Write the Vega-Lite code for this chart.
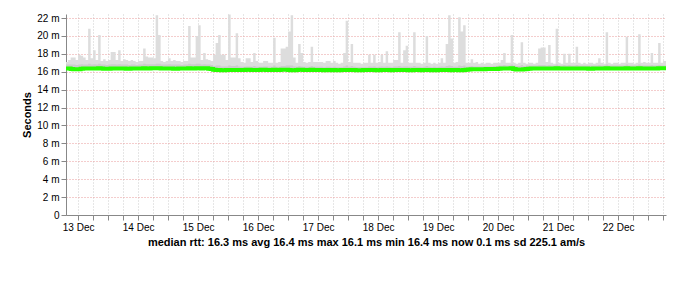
{
"$schema": "https://vega.github.io/schema/vega-lite/v6.json",
"width": 600,
"height": 201,
"autosize": "none",
"padding": {"left": 66, "top": 14, "right": 31, "bottom": 82},
"background": "#ffffff",
"config": {"view": {"stroke": null}},
"data": {"values": [
{"t":"2025-12-12T19:00","m":16.35,"q":16.8,"h":17.1},
{"t":"2025-12-12T20:00","m":16.35,"q":16.8,"h":17.3},
{"t":"2025-12-12T21:00","m":16.32,"q":16.8,"h":17.6},
{"t":"2025-12-12T22:00","m":16.28,"q":16.8,"h":17.6},
{"t":"2025-12-12T23:00","m":16.28,"q":16.75,"h":17.3},
{"t":"2025-12-13T00:00","m":16.28,"q":16.8,"h":17.9},
{"t":"2025-12-13T01:00","m":16.34,"q":16.85,"h":17.8},
{"t":"2025-12-13T02:00","m":16.36,"q":16.8,"h":17.6},
{"t":"2025-12-13T03:00","m":16.36,"q":16.8,"h":17.3},
{"t":"2025-12-13T04:00","m":16.36,"q":16.9,"h":20.8},
{"t":"2025-12-13T05:00","m":16.36,"q":16.8,"h":17.5},
{"t":"2025-12-13T06:00","m":16.36,"q":16.85,"h":18.4},
{"t":"2025-12-13T07:00","m":16.36,"q":16.8,"h":17.3},
{"t":"2025-12-13T08:00","m":16.38,"q":16.9,"h":20.1},
{"t":"2025-12-13T09:00","m":16.36,"q":16.8,"h":17.2},
{"t":"2025-12-13T10:00","m":16.34,"q":16.8,"h":17.4},
{"t":"2025-12-13T11:00","m":16.34,"q":16.75,"h":17.2},
{"t":"2025-12-13T12:00","m":16.34,"q":16.8,"h":17.3},
{"t":"2025-12-13T13:00","m":16.36,"q":16.85,"h":18.2},
{"t":"2025-12-13T14:00","m":16.36,"q":16.85,"h":18.2},
{"t":"2025-12-13T15:00","m":16.36,"q":16.8,"h":17.3},
{"t":"2025-12-13T16:00","m":16.36,"q":16.85,"h":18.4},
{"t":"2025-12-13T17:00","m":16.36,"q":16.8,"h":17.2},
{"t":"2025-12-13T18:00","m":16.36,"q":16.8,"h":17.4},
{"t":"2025-12-13T19:00","m":16.34,"q":16.8,"h":17.3},
{"t":"2025-12-13T20:00","m":16.34,"q":16.75,"h":17.2},
{"t":"2025-12-13T21:00","m":16.36,"q":16.8,"h":17.3},
{"t":"2025-12-13T22:00","m":16.36,"q":16.8,"h":17.2},
{"t":"2025-12-13T23:00","m":16.36,"q":16.75,"h":17.1},
{"t":"2025-12-14T00:00","m":16.36,"q":16.8,"h":17.2},
{"t":"2025-12-14T01:00","m":16.36,"q":16.8,"h":17.2},
{"t":"2025-12-14T02:00","m":16.38,"q":16.9,"h":18.6},
{"t":"2025-12-14T03:00","m":16.36,"q":16.85,"h":17.7},
{"t":"2025-12-14T04:00","m":16.36,"q":16.85,"h":17.6},
{"t":"2025-12-14T05:00","m":16.38,"q":16.85,"h":17.6},
{"t":"2025-12-14T06:00","m":16.38,"q":16.85,"h":17.5},
{"t":"2025-12-14T07:00","m":16.38,"q":16.9,"h":22.3},
{"t":"2025-12-14T08:00","m":16.38,"q":16.9,"h":20.1},
{"t":"2025-12-14T09:00","m":16.36,"q":16.8,"h":17.2},
{"t":"2025-12-14T10:00","m":16.36,"q":16.8,"h":17.1},
{"t":"2025-12-14T11:00","m":16.36,"q":16.8,"h":17.2},
{"t":"2025-12-14T12:00","m":16.36,"q":16.85,"h":17.5},
{"t":"2025-12-14T13:00","m":16.36,"q":16.8,"h":17.2},
{"t":"2025-12-14T14:00","m":16.34,"q":16.8,"h":17.3},
{"t":"2025-12-14T15:00","m":16.34,"q":16.8,"h":17.2},
{"t":"2025-12-14T16:00","m":16.36,"q":16.8,"h":17.2},
{"t":"2025-12-14T17:00","m":16.36,"q":16.75,"h":17.1},
{"t":"2025-12-14T18:00","m":16.36,"q":16.8,"h":17.2},
{"t":"2025-12-14T19:00","m":16.36,"q":16.8,"h":17.2},
{"t":"2025-12-14T20:00","m":16.38,"q":16.9,"h":21.1},
{"t":"2025-12-14T21:00","m":16.36,"q":16.85,"h":17.6},
{"t":"2025-12-14T22:00","m":16.36,"q":16.85,"h":17.6},
{"t":"2025-12-14T23:00","m":16.38,"q":16.9,"h":20.0},
{"t":"2025-12-15T00:00","m":16.38,"q":16.9,"h":21.2},
{"t":"2025-12-15T01:00","m":16.36,"q":16.8,"h":17.3},
{"t":"2025-12-15T02:00","m":16.38,"q":16.85,"h":18.1},
{"t":"2025-12-15T03:00","m":16.38,"q":16.8,"h":17.4},
{"t":"2025-12-15T04:00","m":16.34,"q":16.8,"h":17.3},
{"t":"2025-12-15T05:00","m":16.3,"q":16.75,"h":17.2},
{"t":"2025-12-15T06:00","m":16.22,"q":16.65,"h":17.9},
{"t":"2025-12-15T07:00","m":16.2,"q":16.7,"h":19.2},
{"t":"2025-12-15T08:00","m":16.2,"q":16.7,"h":20.1},
{"t":"2025-12-15T09:00","m":16.18,"q":16.6,"h":17.9},
{"t":"2025-12-15T10:00","m":16.18,"q":16.6,"h":17.9},
{"t":"2025-12-15T11:00","m":16.2,"q":16.6,"h":17.3},
{"t":"2025-12-15T12:00","m":16.2,"q":16.7,"h":22.4},
{"t":"2025-12-15T13:00","m":16.2,"q":16.65,"h":17.6},
{"t":"2025-12-15T14:00","m":16.2,"q":16.65,"h":17.6},
{"t":"2025-12-15T15:00","m":16.2,"q":16.7,"h":20.3},
{"t":"2025-12-15T16:00","m":16.2,"q":16.6,"h":17.5},
{"t":"2025-12-15T17:00","m":16.2,"q":16.55,"h":17.1},
{"t":"2025-12-15T18:00","m":16.2,"q":16.55,"h":17.0},
{"t":"2025-12-15T19:00","m":16.22,"q":16.6,"h":17.5},
{"t":"2025-12-15T20:00","m":16.22,"q":16.6,"h":17.5},
{"t":"2025-12-15T21:00","m":16.2,"q":16.55,"h":17.1},
{"t":"2025-12-15T22:00","m":16.2,"q":16.65,"h":18.1},
{"t":"2025-12-15T23:00","m":16.2,"q":16.55,"h":17.2},
{"t":"2025-12-16T00:00","m":16.2,"q":16.55,"h":17.0},
{"t":"2025-12-16T01:00","m":16.22,"q":16.55,"h":17.0},
{"t":"2025-12-16T02:00","m":16.22,"q":16.6,"h":17.2},
{"t":"2025-12-16T03:00","m":16.2,"q":16.6,"h":17.2},
{"t":"2025-12-16T04:00","m":16.2,"q":16.55,"h":17.0},
{"t":"2025-12-16T05:00","m":16.2,"q":16.55,"h":17.0},
{"t":"2025-12-16T06:00","m":16.22,"q":16.7,"h":19.8},
{"t":"2025-12-16T07:00","m":16.2,"q":16.55,"h":17.0},
{"t":"2025-12-16T08:00","m":16.2,"q":16.55,"h":17.1},
{"t":"2025-12-16T09:00","m":16.22,"q":16.65,"h":18.6},
{"t":"2025-12-16T10:00","m":16.22,"q":16.65,"h":18.6},
{"t":"2025-12-16T11:00","m":16.22,"q":16.7,"h":18.8},
{"t":"2025-12-16T12:00","m":16.2,"q":16.7,"h":20.5},
{"t":"2025-12-16T13:00","m":16.16,"q":16.7,"h":22.3},
{"t":"2025-12-16T14:00","m":16.18,"q":16.6,"h":17.6},
{"t":"2025-12-16T15:00","m":16.2,"q":16.55,"h":17.0},
{"t":"2025-12-16T16:00","m":16.22,"q":16.65,"h":19.1},
{"t":"2025-12-16T17:00","m":16.22,"q":16.6,"h":18.1},
{"t":"2025-12-16T18:00","m":16.2,"q":16.55,"h":17.1},
{"t":"2025-12-16T19:00","m":16.2,"q":16.55,"h":17.0},
{"t":"2025-12-16T20:00","m":16.2,"q":16.55,"h":17.1},
{"t":"2025-12-16T21:00","m":16.22,"q":16.65,"h":18.8},
{"t":"2025-12-16T22:00","m":16.2,"q":16.55,"h":17.1},
{"t":"2025-12-16T23:00","m":16.2,"q":16.55,"h":17.1},
{"t":"2025-12-17T00:00","m":16.2,"q":16.55,"h":17.1},
{"t":"2025-12-17T01:00","m":16.2,"q":16.55,"h":17.1},
{"t":"2025-12-17T02:00","m":16.18,"q":16.5,"h":17.0},
{"t":"2025-12-17T03:00","m":16.2,"q":16.55,"h":17.2},
{"t":"2025-12-17T04:00","m":16.2,"q":16.55,"h":17.2},
{"t":"2025-12-17T05:00","m":16.18,"q":16.5,"h":17.0},
{"t":"2025-12-17T06:00","m":16.2,"q":16.55,"h":17.2},
{"t":"2025-12-17T07:00","m":16.18,"q":16.5,"h":17.0},
{"t":"2025-12-17T08:00","m":16.18,"q":16.5,"h":16.9},
{"t":"2025-12-17T09:00","m":16.2,"q":16.5,"h":17.0},
{"t":"2025-12-17T10:00","m":16.2,"q":16.6,"h":18.1},
{"t":"2025-12-17T11:00","m":16.2,"q":16.7,"h":21.7},
{"t":"2025-12-17T12:00","m":16.2,"q":16.55,"h":17.1},
{"t":"2025-12-17T13:00","m":16.2,"q":16.65,"h":19.1},
{"t":"2025-12-17T14:00","m":16.2,"q":16.55,"h":17.0},
{"t":"2025-12-17T15:00","m":16.18,"q":16.5,"h":17.0},
{"t":"2025-12-17T16:00","m":16.18,"q":16.5,"h":17.0},
{"t":"2025-12-17T17:00","m":16.18,"q":16.5,"h":16.9},
{"t":"2025-12-17T18:00","m":16.2,"q":16.5,"h":17.0},
{"t":"2025-12-17T19:00","m":16.2,"q":16.5,"h":17.0},
{"t":"2025-12-17T20:00","m":16.2,"q":16.6,"h":17.9},
{"t":"2025-12-17T21:00","m":16.2,"q":16.55,"h":17.0},
{"t":"2025-12-17T22:00","m":16.2,"q":16.6,"h":17.9},
{"t":"2025-12-17T23:00","m":16.18,"q":16.5,"h":17.0},
{"t":"2025-12-18T00:00","m":16.18,"q":16.55,"h":17.1},
{"t":"2025-12-18T01:00","m":16.2,"q":16.6,"h":17.9},
{"t":"2025-12-18T02:00","m":16.2,"q":16.55,"h":17.0},
{"t":"2025-12-18T03:00","m":16.2,"q":16.6,"h":18.3},
{"t":"2025-12-18T04:00","m":16.2,"q":16.55,"h":17.0},
{"t":"2025-12-18T05:00","m":16.18,"q":16.5,"h":17.0},
{"t":"2025-12-18T06:00","m":16.2,"q":16.6,"h":17.3},
{"t":"2025-12-18T07:00","m":16.2,"q":16.6,"h":17.3},
{"t":"2025-12-18T08:00","m":16.2,"q":16.65,"h":20.4},
{"t":"2025-12-18T09:00","m":16.2,"q":16.55,"h":17.0},
{"t":"2025-12-18T10:00","m":16.2,"q":16.6,"h":18.4},
{"t":"2025-12-18T11:00","m":16.2,"q":16.6,"h":18.9},
{"t":"2025-12-18T12:00","m":16.18,"q":16.55,"h":17.0},
{"t":"2025-12-18T13:00","m":16.18,"q":16.55,"h":17.0},
{"t":"2025-12-18T14:00","m":16.2,"q":16.65,"h":20.4},
{"t":"2025-12-18T15:00","m":16.2,"q":16.55,"h":17.0},
{"t":"2025-12-18T16:00","m":16.2,"q":16.55,"h":17.0},
{"t":"2025-12-18T17:00","m":16.18,"q":16.5,"h":16.9},
{"t":"2025-12-18T18:00","m":16.2,"q":16.55,"h":17.0},
{"t":"2025-12-18T19:00","m":16.2,"q":16.65,"h":20.0},
{"t":"2025-12-18T20:00","m":16.2,"q":16.55,"h":17.0},
{"t":"2025-12-18T21:00","m":16.18,"q":16.5,"h":16.9},
{"t":"2025-12-18T22:00","m":16.2,"q":16.55,"h":17.0},
{"t":"2025-12-18T23:00","m":16.18,"q":16.5,"h":16.9},
{"t":"2025-12-19T00:00","m":16.2,"q":16.55,"h":17.0},
{"t":"2025-12-19T01:00","m":16.2,"q":16.6,"h":17.5},
{"t":"2025-12-19T02:00","m":16.2,"q":16.55,"h":17.0},
{"t":"2025-12-19T03:00","m":16.2,"q":16.65,"h":19.1},
{"t":"2025-12-19T04:00","m":16.2,"q":16.7,"h":22.3},
{"t":"2025-12-19T05:00","m":16.18,"q":16.65,"h":19.7},
{"t":"2025-12-19T06:00","m":16.2,"q":16.55,"h":17.0},
{"t":"2025-12-19T07:00","m":16.2,"q":16.55,"h":17.1},
{"t":"2025-12-19T08:00","m":16.16,"q":16.7,"h":22.1},
{"t":"2025-12-19T09:00","m":16.16,"q":16.65,"h":20.5},
{"t":"2025-12-19T10:00","m":16.2,"q":16.7,"h":21.2},
{"t":"2025-12-19T11:00","m":16.22,"q":16.55,"h":17.0},
{"t":"2025-12-19T12:00","m":16.26,"q":16.6,"h":17.0},
{"t":"2025-12-19T13:00","m":16.28,"q":16.65,"h":17.4},
{"t":"2025-12-19T14:00","m":16.28,"q":16.6,"h":17.0},
{"t":"2025-12-19T15:00","m":16.28,"q":16.6,"h":17.1},
{"t":"2025-12-19T16:00","m":16.28,"q":16.6,"h":16.9},
{"t":"2025-12-19T17:00","m":16.28,"q":16.6,"h":17.0},
{"t":"2025-12-19T18:00","m":16.28,"q":16.6,"h":16.9},
{"t":"2025-12-19T19:00","m":16.3,"q":16.6,"h":17.0},
{"t":"2025-12-19T20:00","m":16.3,"q":16.6,"h":17.0},
{"t":"2025-12-19T21:00","m":16.3,"q":16.6,"h":16.9},
{"t":"2025-12-19T22:00","m":16.3,"q":16.65,"h":17.0},
{"t":"2025-12-19T23:00","m":16.32,"q":16.65,"h":17.0},
{"t":"2025-12-20T00:00","m":16.34,"q":16.7,"h":17.0},
{"t":"2025-12-20T01:00","m":16.36,"q":16.7,"h":17.3},
{"t":"2025-12-20T02:00","m":16.36,"q":16.75,"h":18.1},
{"t":"2025-12-20T03:00","m":16.36,"q":16.7,"h":17.0},
{"t":"2025-12-20T04:00","m":16.36,"q":16.7,"h":17.0},
{"t":"2025-12-20T05:00","m":16.38,"q":16.8,"h":20.1},
{"t":"2025-12-20T06:00","m":16.3,"q":16.7,"h":17.0},
{"t":"2025-12-20T07:00","m":16.26,"q":16.65,"h":16.9},
{"t":"2025-12-20T08:00","m":16.26,"q":16.65,"h":17.0},
{"t":"2025-12-20T09:00","m":16.26,"q":16.75,"h":19.3},
{"t":"2025-12-20T10:00","m":16.28,"q":16.65,"h":17.0},
{"t":"2025-12-20T11:00","m":16.3,"q":16.7,"h":16.9},
{"t":"2025-12-20T12:00","m":16.34,"q":16.7,"h":17.0},
{"t":"2025-12-20T13:00","m":16.36,"q":16.7,"h":17.0},
{"t":"2025-12-20T14:00","m":16.36,"q":16.7,"h":16.9},
{"t":"2025-12-20T15:00","m":16.36,"q":16.7,"h":17.0},
{"t":"2025-12-20T16:00","m":16.36,"q":16.75,"h":18.6},
{"t":"2025-12-20T17:00","m":16.36,"q":16.75,"h":18.7},
{"t":"2025-12-20T18:00","m":16.36,"q":16.75,"h":18.7},
{"t":"2025-12-20T19:00","m":16.36,"q":16.7,"h":17.1},
{"t":"2025-12-20T20:00","m":16.36,"q":16.75,"h":19.0},
{"t":"2025-12-20T21:00","m":16.36,"q":16.7,"h":17.0},
{"t":"2025-12-20T22:00","m":16.36,"q":16.7,"h":16.9},
{"t":"2025-12-20T23:00","m":16.38,"q":16.8,"h":20.8},
{"t":"2025-12-21T00:00","m":16.36,"q":16.7,"h":17.0},
{"t":"2025-12-21T01:00","m":16.36,"q":16.7,"h":16.9},
{"t":"2025-12-21T02:00","m":16.36,"q":16.75,"h":18.0},
{"t":"2025-12-21T03:00","m":16.36,"q":16.7,"h":17.0},
{"t":"2025-12-21T04:00","m":16.36,"q":16.75,"h":18.0},
{"t":"2025-12-21T05:00","m":16.36,"q":16.7,"h":17.0},
{"t":"2025-12-21T06:00","m":16.36,"q":16.7,"h":17.0},
{"t":"2025-12-21T07:00","m":16.36,"q":16.75,"h":18.8},
{"t":"2025-12-21T08:00","m":16.36,"q":16.7,"h":17.0},
{"t":"2025-12-21T09:00","m":16.36,"q":16.7,"h":16.9},
{"t":"2025-12-21T10:00","m":16.36,"q":16.7,"h":17.0},
{"t":"2025-12-21T11:00","m":16.36,"q":16.7,"h":16.9},
{"t":"2025-12-21T12:00","m":16.34,"q":16.7,"h":17.0},
{"t":"2025-12-21T13:00","m":16.34,"q":16.7,"h":17.0},
{"t":"2025-12-21T14:00","m":16.36,"q":16.7,"h":16.9},
{"t":"2025-12-21T15:00","m":16.36,"q":16.7,"h":17.0},
{"t":"2025-12-21T16:00","m":16.36,"q":16.75,"h":17.5},
{"t":"2025-12-21T17:00","m":16.36,"q":16.7,"h":17.0},
{"t":"2025-12-21T18:00","m":16.36,"q":16.7,"h":16.9},
{"t":"2025-12-21T19:00","m":16.38,"q":16.8,"h":20.4},
{"t":"2025-12-21T20:00","m":16.36,"q":16.7,"h":17.0},
{"t":"2025-12-21T21:00","m":16.36,"q":16.7,"h":16.9},
{"t":"2025-12-21T22:00","m":16.36,"q":16.7,"h":17.0},
{"t":"2025-12-21T23:00","m":16.36,"q":16.7,"h":17.0},
{"t":"2025-12-22T00:00","m":16.36,"q":16.7,"h":16.9},
{"t":"2025-12-22T01:00","m":16.36,"q":16.7,"h":17.0},
{"t":"2025-12-22T02:00","m":16.36,"q":16.7,"h":17.0},
{"t":"2025-12-22T03:00","m":16.38,"q":16.8,"h":19.9},
{"t":"2025-12-22T04:00","m":16.36,"q":16.7,"h":17.0},
{"t":"2025-12-22T05:00","m":16.36,"q":16.7,"h":17.0},
{"t":"2025-12-22T06:00","m":16.36,"q":16.7,"h":16.9},
{"t":"2025-12-22T07:00","m":16.36,"q":16.7,"h":17.0},
{"t":"2025-12-22T08:00","m":16.38,"q":16.8,"h":20.2},
{"t":"2025-12-22T09:00","m":16.36,"q":16.7,"h":17.0},
{"t":"2025-12-22T10:00","m":16.36,"q":16.7,"h":17.1},
{"t":"2025-12-22T11:00","m":16.36,"q":16.7,"h":17.0},
{"t":"2025-12-22T12:00","m":16.36,"q":16.7,"h":17.0},
{"t":"2025-12-22T13:00","m":16.36,"q":16.75,"h":18.1},
{"t":"2025-12-22T14:00","m":16.36,"q":16.7,"h":17.0},
{"t":"2025-12-22T15:00","m":16.36,"q":16.7,"h":17.0},
{"t":"2025-12-22T16:00","m":16.38,"q":16.75,"h":19.2},
{"t":"2025-12-22T17:00","m":16.38,"q":16.7,"h":17.0},
{"t":"2025-12-22T18:00","m":16.38,"q":16.7,"h":17.2},
{"t":"2025-12-22T19:00","m":16.38,"q":16.7,"h":17.2},
{"t":"2025-12-22T20:00","m":16.38,"q":16.7,"h":17.2}
]},
"layer": [
{
"mark": {"type": "area", "interpolate": "step-after", "color": "#dddddd", "clip": true},
"encoding": {
"x": {"field": "t", "type": "temporal",
"scale": {"domain": [{"year": 2025, "month": 12, "date": 12, "hours": 19, "minutes": 8, "seconds": 42}, {"year": 2025, "month": 12, "date": 22, "hours": 19, "minutes": 8, "seconds": 42}]},
"axis": {"grid": true, "gridColor": "#cccccc", "gridDash": [1, 2], "tickCount": 40, "labelExpr": "hours(datum.value) === 0 ? timeFormat(datum.value, '%d %b') : ''", "title": "median rtt:  16.3 ms avg   16.4 ms max   16.1 ms min   16.4 ms now   0.1 ms sd   225.1 am/s"}},
"y": {"field": "h", "type": "quantitative",
"scale": {"domain": [0, 22.45], "nice": false},
"axis": {"grid": true, "gridColor": "#e89a9a", "gridDash": [1, 2], "tickCount": 12, "labelExpr": "datum.value === 0 ? '0' : datum.value + ' m'", "title": "Seconds"}},
"y2": {"field": "m"}
}
},
{
"mark": {"type": "area", "interpolate": "step-after", "color": "#cccccc", "clip": true},
"encoding": {
"x": {"field": "t", "type": "temporal"},
"y": {"field": "q", "type": "quantitative"},
"y2": {"field": "m"}
}
},
{
"mark": {"type": "line", "interpolate": "step-after", "strokeWidth": 4, "clip": true, "color": "#26ff00"},
"encoding": {
"x": {"field": "t", "type": "temporal"},
"y": {"field": "m", "type": "quantitative"}
}
}
]
}
